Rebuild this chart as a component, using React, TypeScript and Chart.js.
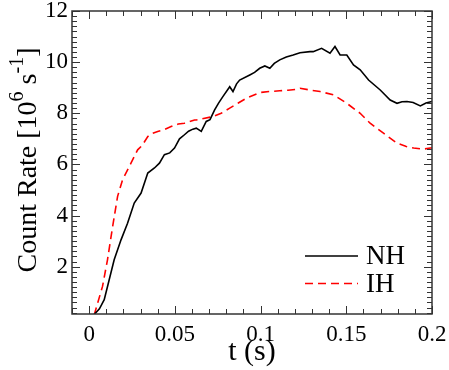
import React, { useEffect, useRef } from 'react';
import { Chart, registerables } from 'chart.js';
Chart.register(...registerables);

// ---- data ----
const seriesNames = ['NH', 'IH'];

const tNH = [0.0025, 0.006, 0.0088, 0.0117, 0.0146, 0.0186, 0.0224, 0.0263, 0.0303, 0.0342, 0.0381, 0.041, 0.0439, 0.047, 0.0498, 0.0527, 0.0556, 0.058, 0.0605, 0.0625, 0.0654, 0.0683, 0.0705, 0.0732, 0.0755, 0.078, 0.082, 0.0839, 0.086, 0.0878, 0.0937, 0.0965, 0.0995, 0.1025, 0.1054, 0.108, 0.1112, 0.115, 0.119, 0.123, 0.1288, 0.1307, 0.1356, 0.1405, 0.1434, 0.1464, 0.1503, 0.1542, 0.1581, 0.163, 0.1698, 0.1756, 0.1796, 0.1825, 0.1854, 0.189, 0.1932, 0.1965, 0.2];
const vNH = [0.1, 0.35, 0.71, 1.49, 2.27, 3.05, 3.7, 4.49, 4.88, 5.66, 5.86, 6.05, 6.38, 6.45, 6.64, 7.0, 7.16, 7.3, 7.38, 7.42, 7.29, 7.68, 7.75, 8.13, 8.4, 8.65, 9.04, 8.85, 9.15, 9.3, 9.5, 9.6, 9.76, 9.85, 9.76, 9.95, 10.09, 10.2, 10.28, 10.37, 10.41, 10.41, 10.54, 10.35, 10.61, 10.28, 10.28, 9.89, 9.7, 9.3, 8.91, 8.52, 8.39, 8.45, 8.46, 8.42, 8.29, 8.4, 8.46];

const tIH = [0.0029, 0.0078, 0.0107, 0.0137, 0.0166, 0.0195, 0.0234, 0.0283, 0.031, 0.0342, 0.0365, 0.04, 0.0435, 0.0478, 0.052, 0.0556, 0.0615, 0.0625, 0.0722, 0.077, 0.082, 0.087, 0.0917, 0.0995, 0.105, 0.1112, 0.116, 0.121, 0.123, 0.1288, 0.1347, 0.1425, 0.1503, 0.1581, 0.1639, 0.1717, 0.1796, 0.185, 0.1893, 0.195, 0.199, 0.2];
const vIH = [0.1, 1.23, 2.27, 3.57, 4.75, 5.4, 5.92, 6.57, 6.75, 7.09, 7.2, 7.29, 7.35, 7.48, 7.58, 7.61, 7.74, 7.74, 7.87, 8.0, 8.2, 8.4, 8.59, 8.81, 8.85, 8.88, 8.9, 8.94, 8.98, 8.91, 8.85, 8.72, 8.39, 8.0, 7.61, 7.22, 6.83, 6.7, 6.64, 6.6, 6.64, 6.64];

const xTicks = [0, 0.05, 0.1, 0.15, 0.2];
const xTickLabels = ['0', '0.05', '0.1', '0.15', '0.2'];
const yTicks = [2, 4, 6, 8, 10, 12];
const yTickLabels = ['2', '4', '6', '8', '10', '12'];
const xMinorStep = 0.01;
const yMinorStep = 0.2;
const xRange = [-0.01, 0.2];
const yRange = [0.15, 12];

const SERIF = '"Liberation Serif", "DejaVu Serif", serif';

const framePlugin = {
  id: 'frameTicks',
  afterDraw(chart: any) {
    const { ctx, chartArea: a, scales } = chart;
    const xs = scales.x, ys = scales.y;
    ctx.save();
    ctx.strokeStyle = '#333';
    ctx.lineWidth = 1.5;
    ctx.strokeRect(a.left, a.top, a.right - a.left, a.bottom - a.top);
    ctx.lineWidth = 1;
    const near = (arr: number[], v: number) => arr.some((m) => Math.abs(m - v) < 1e-9);
    for (let k = Math.ceil(xRange[0] / xMinorStep - 1e-9); k * xMinorStep <= xRange[1] + 1e-9; k++) {
      const v = +(k * xMinorStep).toFixed(6);
      const px = Math.round(xs.getPixelForValue(v)) + 0.5;
      const len = near(xTicks, v) ? 8 : 5;
      ctx.beginPath();
      ctx.moveTo(px, a.bottom); ctx.lineTo(px, a.bottom - len);
      ctx.moveTo(px, a.top); ctx.lineTo(px, a.top + len);
      ctx.stroke();
    }
    for (let k = Math.ceil(yRange[0] / yMinorStep - 1e-9); k * yMinorStep <= yRange[1] + 1e-9; k++) {
      const v = +(k * yMinorStep).toFixed(6);
      const py = Math.round(ys.getPixelForValue(v)) + 0.5;
      const len = near(yTicks, v) ? 8 : 5;
      ctx.beginPath();
      ctx.moveTo(a.left, py); ctx.lineTo(a.left + len, py);
      ctx.moveTo(a.right, py); ctx.lineTo(a.right - len, py);
      ctx.stroke();
    }
    ctx.restore();
  },
};

const yTitlePlugin = {
  id: 'yTitle',
  afterDraw(chart: any) {
    const { ctx } = chart;
    const size = 28;
    const supSize = 20;
    const pieces = [
      { t: 'Count Rate [10', sup: false },
      { t: '6', sup: true },
      { t: ' s', sup: false },
      { t: '-1', sup: true },
      { t: ']', sup: false },
    ];
    ctx.save();
    let total = 0;
    const widths = pieces.map((p) => {
      ctx.font = `${p.sup ? supSize : size}px ${SERIF}`;
      const w = ctx.measureText(p.t).width;
      total += w;
      return w;
    });
    const cy = 160;
    ctx.translate(36, cy);
    ctx.rotate(-Math.PI / 2);
    ctx.fillStyle = '#000';
    ctx.textBaseline = 'alphabetic';
    ctx.textAlign = 'left';
    let x = -total / 2;
    pieces.forEach((p, i) => {
      ctx.font = `${p.sup ? supSize : size}px ${SERIF}`;
      ctx.fillText(p.t, x, p.sup ? -size * 0.45 : 0);
      x += widths[i];
    });
    ctx.restore();
  },
};

const legendPlugin = {
  id: 'customLegend',
  afterDraw(chart: any) {
    const { ctx } = chart;
    ctx.save();
    ctx.font = `27px ${SERIF}`;
    ctx.textBaseline = 'middle';
    chart.data.datasets.forEach((ds: any, i: number) => {
      const y = 256 + i * 27.5;
      ctx.strokeStyle = ds.borderColor;
      ctx.lineWidth = ds.borderWidth;
      ctx.setLineDash(ds.borderDash || []);
      ctx.beginPath();
      ctx.moveTo(305, y); ctx.lineTo(358, y);
      ctx.stroke();
      ctx.setLineDash([]);
      ctx.fillStyle = '#000';
      ctx.fillText(ds.label, 366, y + 1);
    });
    ctx.restore();
  },
};

export default function App() {
  const ref = useRef<HTMLCanvasElement>(null);
  useEffect(() => {
    if (!ref.current) return;
    const chart = new Chart(ref.current, {
      type: 'line',
      data: {
        datasets: [
          {
            label: seriesNames[0],
            data: tNH.map((t, i) => ({ x: t, y: vNH[i] })),
            borderColor: '#000000',
            borderWidth: 1.6,
            pointRadius: 0,
            tension: 0,
          },
          {
            label: seriesNames[1],
            data: tIH.map((t, i) => ({ x: t, y: vIH[i] })),
            borderColor: '#ff0000',
            borderWidth: 1.6,
            borderDash: [8, 5],
            pointRadius: 0,
            tension: 0,
          },
        ],
      },
      options: {
        animation: false,
        responsive: false,
        devicePixelRatio: 1,
        layout: { padding: { left: 0, top: 11, right: 17, bottom: 0 } },
        plugins: { legend: { display: false }, tooltip: { enabled: false } },
        scales: {
          x: {
            type: 'linear',
            min: xRange[0],
            max: xRange[1],
            grid: { display: false, drawTicks: false },
            border: { display: false },
            afterBuildTicks: (s: any) => { s.ticks = xTicks.map((v) => ({ value: v })); },
            afterFit: (s: any) => { s.height = 56; s.paddingLeft = 0; s.paddingRight = 0; s.paddingTop = 0; s.paddingBottom = 0; },
            ticks: {
              autoSkip: false,
              maxRotation: 0,
              padding: 7,
              color: '#000',
              font: { family: SERIF, size: 23 },
              callback: (v: any) => { const i = xTicks.findIndex((m) => Math.abs(m - v) < 1e-9); return i >= 0 ? xTickLabels[i] : ''; },
            },
            title: {
              display: true,
              text: 't (s)',
              color: '#000',
              font: { family: SERIF, size: 30 },
              padding: { top: 0, bottom: 0 },
            },
          },
          y: {
            type: 'linear',
            min: yRange[0],
            max: yRange[1],
            grid: { display: false, drawTicks: false },
            border: { display: false },
            afterBuildTicks: (s: any) => { s.ticks = yTicks.map((v) => ({ value: v })); },
            afterFit: (s: any) => { s.width = 72; s.paddingLeft = 0; s.paddingRight = 0; s.paddingTop = 0; s.paddingBottom = 0; },
            ticks: {
              autoSkip: false,
              padding: 4,
              color: '#000',
              font: { family: SERIF, size: 23 },
              callback: (v: any) => { const i = yTicks.findIndex((m) => Math.abs(m - v) < 1e-9); return i >= 0 ? yTickLabels[i] : ''; },
            },
          },
        },
      },
      plugins: [framePlugin, yTitlePlugin, legendPlugin],
    } as any);
    return () => chart.destroy();
  }, []);
  return (
    <div style={{ position: 'absolute', left: 0, top: 0, width: 449, height: 370, background: '#fff' }}>
      <canvas ref={ref} width={449} height={370} />
    </div>
  );
}
